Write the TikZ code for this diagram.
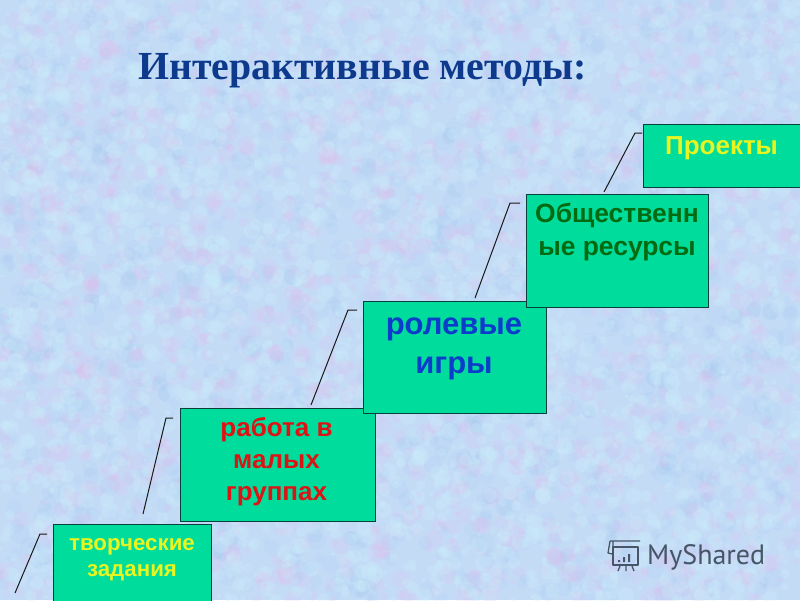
\documentclass[tikz,border=0pt]{standalone}
\usepackage{fontspec}
\setmainfont{Liberation Sans}
\newfontfamily\titlefont{Liberation Serif}
\newfontfamily\logofont{PT Sans}
\definecolor{bgbase}{HTML}{C4DBF6}
\definecolor{blotpink}{HTML}{E8B8EA}
\definecolor{blotblue}{HTML}{9CC4F0}
\definecolor{blotlight}{HTML}{CDF2FC}
\definecolor{boxfill}{HTML}{00DC9C}
\definecolor{boxline}{HTML}{0A3F3C}
\definecolor{titleblue}{HTML}{0E3A8E}
\definecolor{txtyellow}{HTML}{E8F520}
\definecolor{txtred}{HTML}{DC1414}
\definecolor{txtblue}{HTML}{0C3CCB}
\definecolor{txtgreen}{HTML}{056A10}
\definecolor{logogray}{HTML}{465668}
\tikzset{
  stepbox/.style={draw=boxline,line width=1.3pt,fill=boxfill,rectangle,inner sep=0pt,anchor=north west},
  steptext/.style={align=center,anchor=base,inner sep=0pt},
  leader/.style={draw=black!90,line width=1pt},
  logoline/.style={draw=logogray,line width=1.3pt,line join=round}
}
\begin{document}
\begin{tikzpicture}[x=1pt,y=-1pt]
\useasboundingbox (0,0) rectangle (800,600);
\clip (0,0) rectangle (800,600);
\fill[bgbase] (0,0) rectangle (800,600);
% mottled background
\pgfmathsetseed{4711}
\foreach \i in {1,...,1500}{
  \pgfmathsetmacro{\px}{random(0,800)}
  \pgfmathsetmacro{\py}{random(0,600)}
  \pgfmathsetmacro{\pr}{random(3,10)}
  \fill[blotblue,opacity=.12] (\px,\py) circle[radius=\pr];
}
\foreach \i in {1,...,1500}{
  \pgfmathsetmacro{\px}{random(0,800)}
  \pgfmathsetmacro{\py}{random(0,600)}
  \pgfmathsetmacro{\pr}{random(3,9)}
  \fill[blotpink,opacity=.16] (\px,\py) circle[radius=\pr];
}
\foreach \i in {1,...,2800}{
  \pgfmathsetmacro{\px}{random(0,800)}
  \pgfmathsetmacro{\py}{random(0,600)}
  \pgfmathsetmacro{\pr}{random(2,8)}
  \fill[blotlight,opacity=.22] (\px,\py) circle[radius=\pr];
}
% title
\node[font=\titlefont\bfseries\fontsize{39.8}{44}\selectfont,text=titleblue,anchor=base west,inner sep=0pt] (title) at (138,79) {Интерактивные методы:};
% leader coordinates
\coordinate (a0) at (15,593);  \coordinate (a1) at (40,534);  \coordinate (a2) at (47,534);
\coordinate (b0) at (143,514); \coordinate (b1) at (166,418); \coordinate (b2) at (173,418);
\coordinate (c0) at (311,405); \coordinate (c1) at (348,310); \coordinate (c2) at (357,310);
\coordinate (d0) at (475,298); \coordinate (d1) at (510,203); \coordinate (d2) at (520,203);
\coordinate (e0) at (604,192); \coordinate (e1) at (635,133); \coordinate (e2) at (642,133);
\draw[leader] (a0)--(a1)--(a2);
\draw[leader] (b0)--(b1)--(b2);
\draw[leader] (c0)--(c1)--(c2);
\draw[leader] (d0)--(d1)--(d2);
\draw[leader] (e0)--(e1)--(e2);
% boxes
\node[stepbox,minimum width=158pt,minimum height=100pt] (s1) at (53,524) {};
\node[stepbox,minimum width=195.5pt,minimum height=113pt] (s2) at (179.5,407.5) {};
\node[stepbox,minimum width=183pt,minimum height=112.5pt] (s3) at (362.5,300.5) {};
\node[stepbox,minimum width=182pt,minimum height=113pt] (s4) at (526,193.5) {};
\node[stepbox,minimum width=180pt,minimum height=63pt] (s5) at (642.5,123.5) {};
% labels
\node[steptext,text=txtyellow,font=\bfseries\fontsize{22.3}{26}\selectfont] (t1) at (132,576) {творческие\\задания};
\node[steptext,text=txtred,font=\bfseries\fontsize{26}{32}\selectfont] (t2) at (276.5,500.5) {работа в\\малых\\группах};
\node[steptext,text=txtblue,font=\bfseries\fontsize{31}{38.5}\selectfont] (t3) at (454,373) {ролевые\\игры};
\node[steptext,text=txtgreen,font=\bfseries\fontsize{26.4}{33}\selectfont] (t4) at (617,255) {Общественн\\ые ресурсы};
\node[steptext,text=txtyellow,font=\bfseries\fontsize{26}{30}\selectfont] (t5) at (721.5,154) {Проекты};
% logo
\node[font=\logofont\fontsize{28}{30}\selectfont,text=logogray,anchor=base west,inner sep=0pt] (logo) at (647,564) {MyShared};
\draw[logoline] (613,547) rectangle (638,565);
\draw[logoline] (610,541) -- (640,541) (613,541) -- (613,547) (610,541) -- (608,553) -- (612,554);
\fill[logogray] (618,560) rectangle +(2,2) (623,557) rectangle +(2,5) (628,554) rectangle +(2,8);
\draw[logoline] (620,566) -- (618,571) (626,566) -- (626,571) (632,566) -- (634,571);
\end{tikzpicture}
\end{document}
